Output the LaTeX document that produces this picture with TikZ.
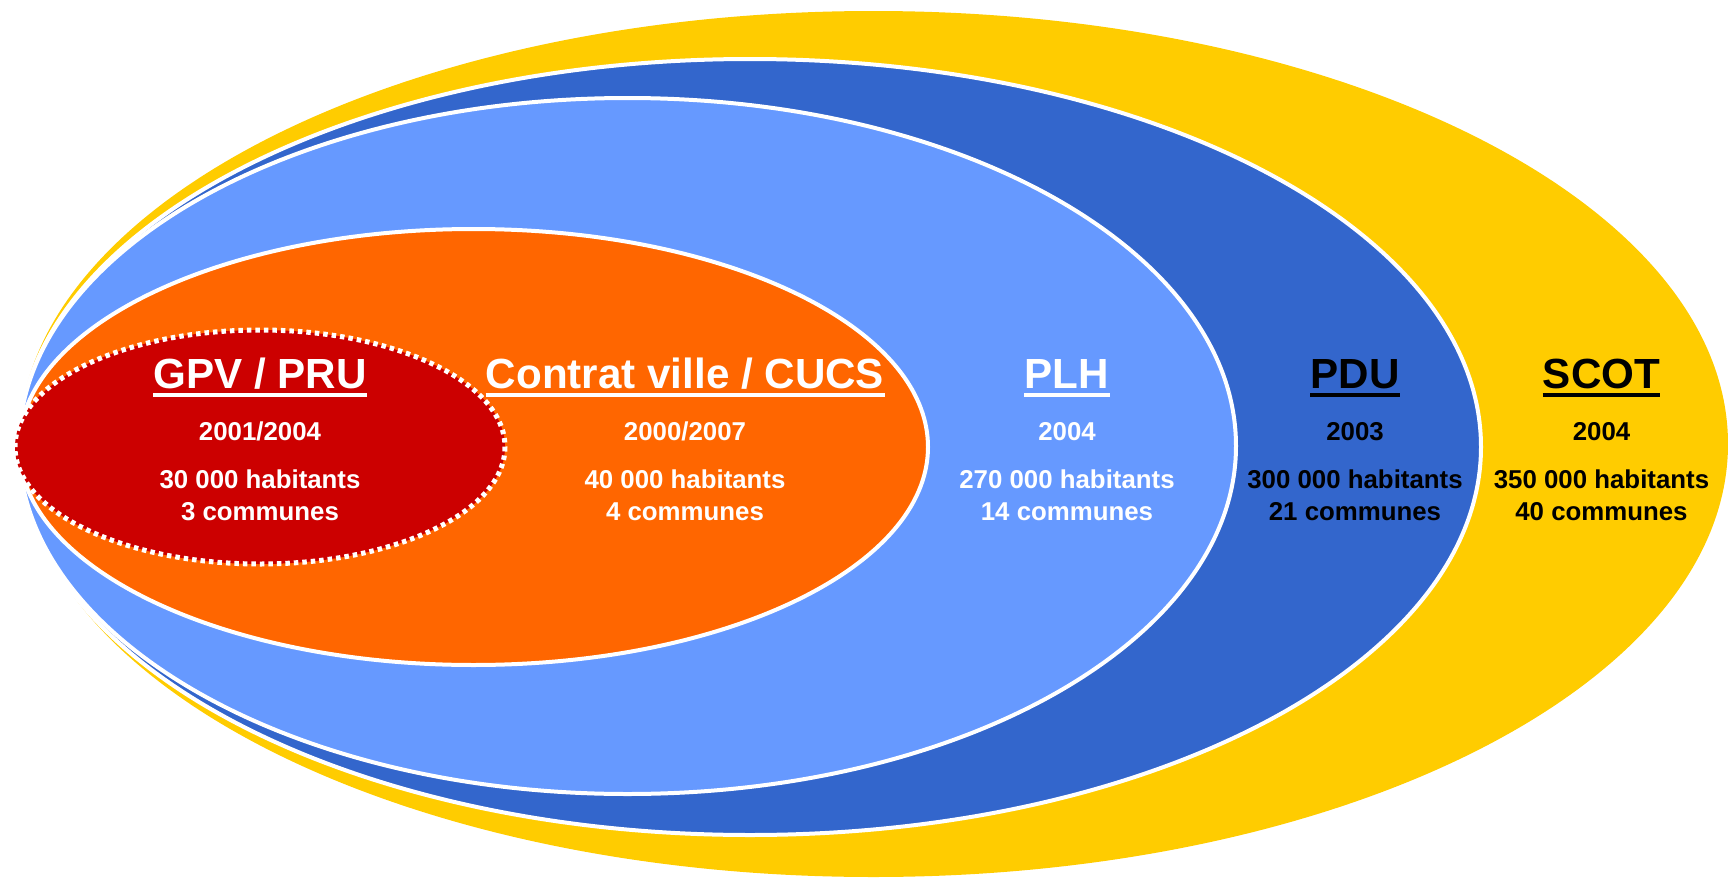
\documentclass[tikz,border=0pt]{standalone}
\usepackage{fontspec}
\setmainfont{Liberation Sans}
\definecolor{scotyellow}{HTML}{FFCC00}
\definecolor{pdublue}{HTML}{3366CC}
\definecolor{plhblue}{HTML}{6699FF}
\definecolor{cucsorange}{HTML}{FF6600}
\definecolor{gpvred}{HTML}{CC0000}
\tikzset{
  zone/.style={draw=white,line width=0.08cm},
  zonetitle/.style={inner sep=0pt,anchor=base,font=\fontsize{24}{29}\selectfont\bfseries},
  zoneinfo/.style={inner sep=0pt,anchor=base,font=\fontsize{14.7}{18}\selectfont\bfseries},
  uline/.style={line width=0.08cm}
}
\begin{document}
\begin{tikzpicture}[x=0.02cm,y=-0.02cm]
\useasboundingbox (0,0) rectangle (1728,879);
% nested perimeters
\fill[scotyellow] (873.5,444) ellipse [x radius=854.5,y radius=433];
\filldraw[zone,fill=pdublue] (750,447) ellipse [x radius=731,y radius=388];
\filldraw[zone,fill=plhblue] (627.5,446) ellipse [x radius=608.5,y radius=348];
\filldraw[zone,fill=cucsorange] (473.5,447) ellipse [x radius=454.5,y radius=218];
\filldraw[zone,fill=gpvred,line width=0.1cm,dash pattern=on 0.09cm off 0.08cm] (260,447) ellipse [x radius=245,y radius=117];
% labels
\foreach \n/\x/\t/\yr/\h/\c/\col in {
  gpv/260/{GPV / PRU}/{2001/2004}/30 000/3/white,
  cucs/685/{Contrat ville / CUCS}/{2000/2007}/40 000/4/white,
  plh/1067/PLH/2004/270 000/14/white,
  pdu/1355/PDU/2003/300 000/21/black,
  scot/1601.5/SCOT/2004/350 000/40/black}{
  \node[zonetitle,text=\col] (\n-t) at (\x,388) {\t};
  \draw[uline,\col] ([yshift=-0.14cm]\n-t.base west) -- ([yshift=-0.14cm]\n-t.base east);
  \node[zoneinfo,text=\col] (\n-y) at (\x,440) {\yr};
  \node[zoneinfo,text=\col] (\n-h) at (\x,488) {\h\ habitants};
  \node[zoneinfo,text=\col] (\n-c) at (\x,520) {\c\ communes};
}
\end{tikzpicture}
\end{document}
